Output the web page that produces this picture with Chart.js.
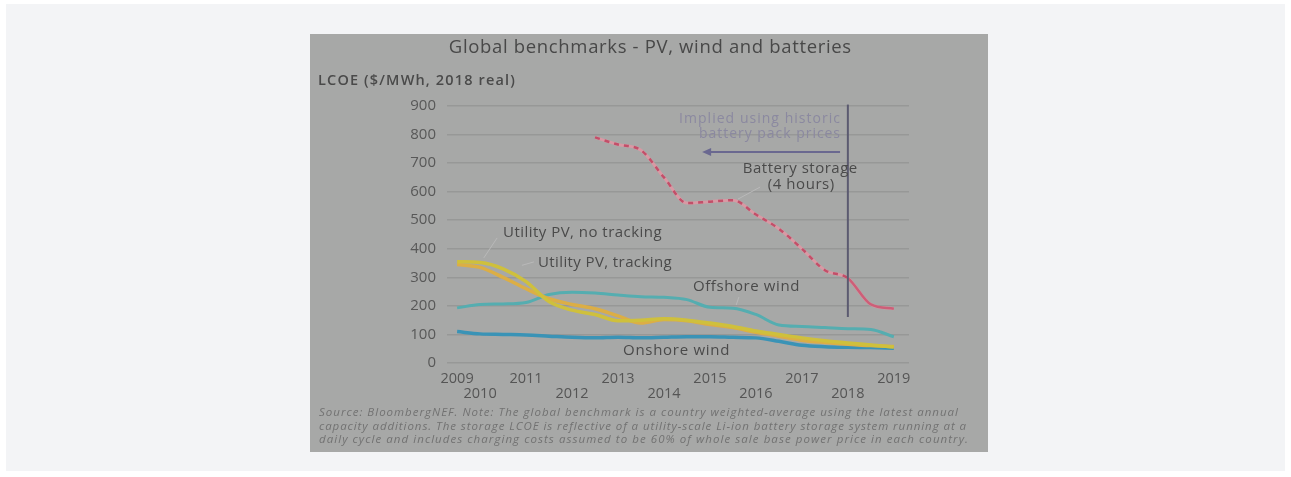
<!DOCTYPE html>
<html><head><meta charset="utf-8">
<script src="https://cdn.jsdelivr.net/npm/chart.js@4.4.1/dist/chart.umd.min.js"></script>
<style>
html,body{margin:0;padding:0;background:#ffffff;width:1291px;height:477px;overflow:hidden}
#panel{position:absolute;left:6px;top:4px;width:1279px;height:467px;background:#f3f4f6}
#box{position:absolute;left:310px;top:34px;width:678px;height:418px;background:#a7a8a7}
#box canvas{position:absolute;left:0;top:0}
</style></head><body>
<div id="panel"></div>
<div id="box"><canvas id="c" width="678" height="418"></canvas></div>
<script>
// Half-year periods (2H 2009 ... 1H 2019)
const periods = [2009.5,2010,2010.5,2011,2011.5,2012,2012.5,2013,2013.5,2014,2014.5,2015,2015.5,2016,2016.5,2017,2017.5,2018,2018.5,2019];
const onshoreWind   = [110,102,100,98,94,90,88,90,88,90,92,92,90,88,76,62,57,55,54,52];
const offshoreWind  = [193,205,207,212,240,248,245,238,232,230,222,195,192,170,133,128,124,120,117,92];
const pvNoTracking  = [355,352,330,285,215,185,170,148,150,155,150,140,128,112,100,88,78,70,63,56];
const pvTracking    = [345,335,300,260,225,205,190,165,140,152,148,135,124,108,94,80,72,66,61,58];
const batteryStorage= [null,null,null,null,null,null,790,765,745,650,560,565,570,520,470,400,325,297,205,190];
const xTickValues = [2009.5,2010,2011,2012,2013,2014,2015,2016,2017,2018,2019];
const xTickLabels = ['2009','2010','2011','2012','2013','2014','2015','2016','2017','2018','2019'];
const yTickValues = [0,100,200,300,400,500,600,700,800,900];

const pts = arr => periods.map((p,i)=>({x:p,y:arr[i]}));
const FONT = '"Open Sans", "Liberation Sans", sans-serif';

// draw text stretched to a given width (matches wide reference typeface)
function fitText(ctx, text, x, y, align, width){
  ctx.letterSpacing = '0px';
  const w = ctx.measureText(text).width;
  const ls = Math.max(0, (width - w) / text.length);
  ctx.letterSpacing = ls + 'px';
  const w2 = ctx.measureText(text).width - ls;
  const sx = align === 'left' ? x : align === 'right' ? x - w2 : x - w2/2;
  ctx.textAlign = 'left';
  ctx.fillText(text, sx, y);
  ctx.letterSpacing = '0px';
}

const annot = {
  id:'annot',
  afterDatasetsDraw(chart){
    const ctx = chart.ctx, xs = chart.scales.x, ys = chart.scales.y;
    const X = v => xs.getPixelForValue(v), Y = v => ys.getPixelForValue(v);
    ctx.save();
    // vertical divider at 2018
    ctx.strokeStyle = '#5b5a70'; ctx.lineWidth = 2;
    ctx.beginPath(); ctx.moveTo(X(2018), Y(905)); ctx.lineTo(X(2018), Y(161)); ctx.stroke();
    // arrow
    ctx.strokeStyle = '#6a6890'; ctx.fillStyle = '#6a6890'; ctx.lineWidth = 2;
    ctx.beginPath(); ctx.moveTo(X(2017.83), Y(739)); ctx.lineTo(X(2014.95), Y(739)); ctx.stroke();
    ctx.beginPath(); ctx.moveTo(X(2014.83), Y(739)); ctx.lineTo(X(2014.83)+9, Y(739)-4); ctx.lineTo(X(2014.83)+9, Y(739)+4); ctx.closePath(); ctx.fill();
    // leaders
    ctx.strokeStyle = '#b9b9b9'; ctx.lineWidth = 1;
    const seg = (a,b,c,d)=>{ctx.beginPath();ctx.moveTo(X(a),Y(b));ctx.lineTo(X(c),Y(d));ctx.stroke();};
    seg(2016.09,616,2015.61,574);
    seg(2010.37,438,2010.08,368);
    seg(2011.17,354,2010.91,342);
    seg(2015.63,231,2015.57,203);
    // texts
    ctx.textBaseline = 'middle';
    ctx.fillStyle = '#8b89a0'; ctx.font = '14px '+FONT;
    fitText(ctx, 'Implied using historic', X(2017.83), Y(854), 'right', 162);
    fitText(ctx, 'battery pack prices', X(2017.83), Y(802), 'right', 142);
    ctx.fillStyle = '#4a4a4a'; ctx.font = '15px '+FONT;
    fitText(ctx, 'Battery storage', X(2016.96), Y(679), 'center', 115);
    fitText(ctx, '(4 hours)', X(2016.98), Y(623), 'center', 67);
    fitText(ctx, 'Utility PV, no tracking', X(2010.5), Y(455), 'left', 159);
    fitText(ctx, 'Utility PV, tracking', X(2011.26), Y(350), 'left', 134);
    fitText(ctx, 'Offshore wind', X(2014.63), Y(266), 'left', 107);
    fitText(ctx, 'Onshore wind', X(2013.11), Y(42), 'left', 107);
    ctx.restore();
  },
  afterDraw(chart){
    const ctx = chart.ctx;
    ctx.save();
    ctx.textBaseline='middle';
    ctx.fillStyle='#484848'; ctx.font='18.5px '+FONT;
    fitText(ctx, 'Global benchmarks - PV, wind and batteries', 340, 14, 'center', 403);
    ctx.font='600 14.5px '+FONT; ctx.fillStyle='#4a4a4a';
    fitText(ctx, 'LCOE ($/MWh, 2018 real)', 8, 47, 'left', 198);
    ctx.font='italic 11.5px '+FONT; ctx.fillStyle='#727272';
    const src = ['Source: BloombergNEF. Note: The global benchmark is a country weighted-average using the latest annual',
      'capacity additions. The storage LCOE is reflective of a utility-scale Li-ion battery storage system running at a',
      'daily cycle and includes charging costs assumed to be 60% of whole sale base power price in each country.'];
    const widths = [640, 648, 650];
    src.forEach((s,i)=>fitText(ctx, s, 9, 379+i*13.5, 'left', widths[i]));
    ctx.restore();
  }
};

new Chart(document.getElementById('c'), {
  type:'line',
  data:{datasets:[
    {label:'Battery storage (dashes)', data:pts(batteryStorage), borderColor:'#c24f69', borderWidth:2.5, pointRadius:0, cubicInterpolationMode:'monotone', order:0,
      segment:{borderDash: c => c.p0.parsed.x >= 2018 ? [] : [5,5], borderColor: c => c.p0.parsed.x >= 2018 ? '#cc5f78' : '#c24f69'}},
    {label:'Battery storage', data:pts(batteryStorage), borderColor:'#d899a4', borderWidth:3, pointRadius:0, cubicInterpolationMode:'monotone', order:1},
    {label:'Onshore wind', data:pts(onshoreWind), borderColor:'#3a93b6', borderWidth:3.5, pointRadius:0, cubicInterpolationMode:'monotone', order:4},
    {label:'Offshore wind', data:pts(offshoreWind), borderColor:'#55adb0', borderWidth:3, pointRadius:0, cubicInterpolationMode:'monotone', order:5},
    {label:'Utility PV, tracking', data:pts(pvTracking), borderColor:'#dcae45', borderWidth:3.5, pointRadius:0, cubicInterpolationMode:'monotone', order:3},
    {label:'Utility PV, no tracking', data:pts(pvNoTracking), borderColor:'#cfc03c', borderWidth:3.5, pointRadius:0, cubicInterpolationMode:'monotone', order:2}
  ]},
  options:{
    responsive:false, animation:false, devicePixelRatio:1,
    layout:{padding:{top:72,right:79,left:0,bottom:0}},
    plugins:{legend:{display:false}, tooltip:{enabled:false}, title:{display:false}},
    scales:{
      x:{type:'linear', min:2009.28, max:2019.33,
        afterBuildTicks: s => { s.ticks = xTickValues.map(v=>({value:v})); },
        afterFit: s => { s.height = 89; },
        grid:{display:false, drawTicks:false}, border:{display:false},
        ticks:{autoSkip:false, maxRotation:0, minRotation:0, padding:8, color:'#555555', font:{family:FONT, size:14.5, lineHeight:1.05},
          callback:(v,i)=> i%2===0 ? [xTickLabels[i], ''] : ['', xTickLabels[i]]}},
      y:{min:0, max:900,
        afterBuildTicks: s => { s.ticks = yTickValues.map(v=>({value:v})); },
        afterFit: s => { s.width = 137; },
        grid:{color:'#979897', lineWidth:1.5, drawTicks:false}, border:{display:false},
        ticks:{padding:11, color:'#585858', font:{family:FONT, size:15}}}
    }
  },
  plugins:[annot]
});
</script>
</body></html>
